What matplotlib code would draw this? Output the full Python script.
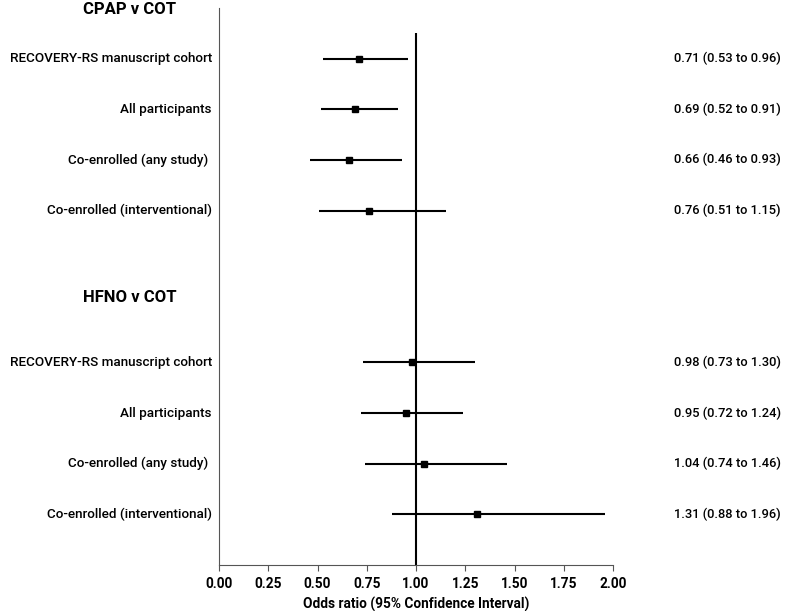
import numpy as np
import matplotlib.pyplot as plt

plt.rcParams['font.family'] = ['Roboto', 'DejaVu Sans']

labels = ['RECOVERY-RS manuscript cohort', 'All participants',
          'Co-enrolled (any study) ', 'Co-enrolled (interventional)']
cpap_or = [0.71, 0.69, 0.66, 0.76]
cpap_lo = [0.53, 0.52, 0.46, 0.51]
cpap_hi = [0.96, 0.91, 0.93, 1.15]
hfno_or = [0.98, 0.95, 1.04, 1.31]
hfno_lo = [0.73, 0.72, 0.74, 0.88]
hfno_hi = [1.30, 1.24, 1.46, 1.96]
groups = ['CPAP v COT', 'HFNO v COT']

fig = plt.figure(figsize=(7.87, 6.11), dpi=100)
ax = fig.add_axes([0.2783, 0.0753, 0.5006, 0.9117])

rows = [np.arange(4), np.arange(6, 10)]
header_rows = [-0.97, 4.72]
for g, (orv, lo, hi) in enumerate([(cpap_or, cpap_lo, cpap_hi),
                                    (hfno_or, hfno_lo, hfno_hi)]):
    y = rows[g]
    orv = np.array(orv); lo = np.array(lo); hi = np.array(hi)
    ax.hlines(y, lo, hi, color='black', lw=1.5, zorder=2)
    ax.plot(orv, y, 's', color='black', ms=5, zorder=3)
    for yi, lab, o, l, h in zip(y, labels, orv, lo, hi):
        ax.text(-0.018, yi, lab, ha='right', va='center', fontsize=9.7,
                fontweight='medium', transform=ax.get_yaxis_transform())
        ax.text(1.155, yi, f'{o:.2f} ({l:.2f} to {h:.2f})', ha='left',
                va='center', fontsize=9.3, fontweight='medium',
                transform=ax.get_yaxis_transform())
    ax.text(-0.226, header_rows[g], groups[g], ha='center', va='center',
            fontsize=12, fontweight='bold', transform=ax.get_yaxis_transform())

ax.vlines(1.0, -0.5, 10, color='black', lw=1.5, zorder=1)

ax.set_xlim(0, 2)
ax.set_ylim(10, -1)
ax.set_xticks(np.arange(0, 2.01, 0.25))
ax.set_xticklabels([f'{v:.2f}' for v in np.arange(0, 2.01, 0.25)],
                   fontsize=9.8, fontweight='bold')
ax.set_yticks([])
ax.spines['top'].set_visible(False)
ax.spines['right'].set_visible(False)
ax.spines['left'].set_color('#555555')
ax.spines['bottom'].set_color('#555555')
ax.tick_params(axis='x', length=4, color='#555555', pad=5)
ax.set_xlabel('Odds ratio (95% Confidence Interval)', fontsize=9.8,
              fontweight='bold', labelpad=4)

fig.savefig('out.png', dpi=100)
